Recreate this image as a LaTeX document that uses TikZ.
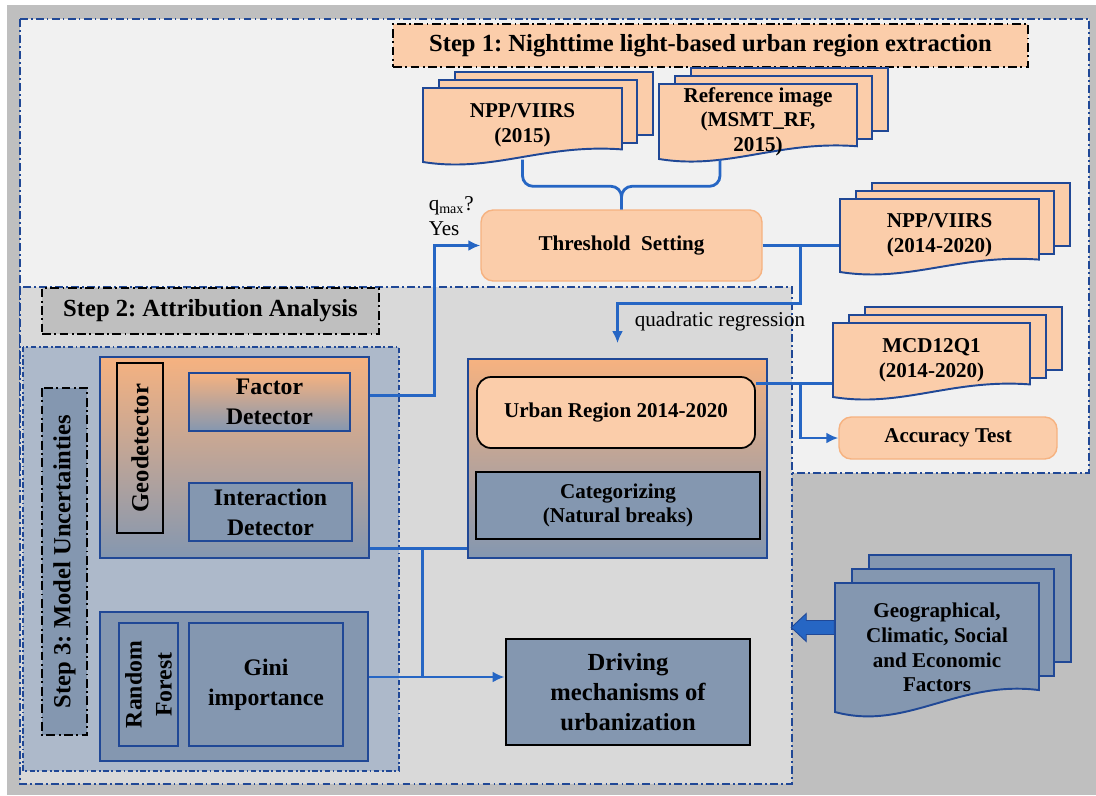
\documentclass[tikz,border=0pt]{standalone}
\usepackage{fontspec}
\setmainfont{Liberation Serif}
\usetikzlibrary{arrows.meta,calc}
\frenchspacing

\definecolor{outergray}{RGB}{191,191,191}
\definecolor{stepone}{RGB}{241,241,241}
\definecolor{steptwo}{RGB}{217,217,217}
\definecolor{stepthree}{RGB}{173,185,202}
\definecolor{panelblue}{RGB}{132,151,176}
\definecolor{peach}{RGB}{251,205,170}
\definecolor{orangetop}{RGB}{246,178,128}
\definecolor{linkblue}{RGB}{38,102,196}
\definecolor{edgeblue}{RGB}{32,72,150}

\begin{document}
\begin{tikzpicture}[x=0.2mm,y=-0.2mm,line width=0.85pt,>={Latex[length=2.4mm,width=2.2mm]},
  sz/.style 2 args={minimum width=#1*0.2mm,minimum height=#2*0.2mm,inner sep=1pt},
  txt/.style={font=\bfseries\fontsize{12}{14}\selectfont,align=center},
  big/.style={font=\bfseries\fontsize{13.5}{17}\selectfont,align=center},
  steptitle/.style={font=\bfseries\fontsize{14}{17}\selectfont,draw=black,
    dash pattern=on 5pt off 2pt on 1pt off 2pt,line width=0.9pt},
  region/.style={draw=edgeblue,line width=0.9pt,dash pattern=on 4.5pt off 1.8pt on 1pt off 1.8pt},
  docline/.style={draw=edgeblue,line width=1.1pt,fill=peach},
  roundbox/.style={fill=peach,draw=orangetop,line width=0.8pt,rounded corners=7pt},
  bluebox/.style={fill=panelblue,draw=edgeblue,line width=1pt},
  conn/.style={draw=linkblue,line width=1.6pt},
  lab/.style={font=\fontsize{12}{14}\selectfont,align=left},
  pics/docpage/.style 2 args={code={
    \path[pic actions] (-#1/2,-#2/2) -- (#1/2,-#2/2) -- (#1/2,#2/2-0.17*#2)
      .. controls (0.1*#1,#2/2-0.25*#2) and (-0.15*#1,#2/2+0.15*#2) .. (-#1/2,#2/2) -- cycle;}}]
  \useasboundingbox (0,0) rectangle (1096,795);
  % frame and step regions
  \fill[white] (0,0) rectangle (1096,795);
  \fill[outergray] (7,5) rectangle (1096,795);
  \path[region,fill=stepone] (20,19) rectangle (1089,473);
  \path[region,fill=steptwo] (20,287) rectangle (792,784);
  \path[region,fill=stepthree,dash pattern=on 3pt off 1.5pt on 1pt off 1.5pt] (23,347) rectangle (399,771);
  \node[steptitle,fill=peach,sz={635}{43}] (s1) at (710.5,45.5) {Step 1: Nighttime light-based urban region extraction};
  \node[steptitle,fill=outergray,sz={337}{46}] (s2) at (210.5,311) {Step 2: Attribution Analysis};
  \node[steptitle,fill=panelblue,rotate=90,sz={347}{45}] (s3) at (64.5,561.5) {Step 3: Model Uncertainties};

  % step 1: inputs and threshold
  \coordinate (ca) at (522.5,125);
  \foreach \k in {2,1} \draw[docline] ($(ca)+(-99.5+16*\k,-37-8*\k)$) rectangle ++(198,63);
  \pic[docline] at (ca) {docpage={199}{74}};
  \node[txt,sz={199}{74}] (npp15) at (ca) {NPP/VIIRS\\(2015)};
  \coordinate (cb) at (758,121.5);
  \foreach \k in {2,1} \draw[docline] ($(cb)+(-99+16*\k,-37.5-8*\k)$) rectangle ++(197,63);
  \pic[docline] at (cb) {docpage={198}{75}};
  \node[txt,sz={198}{75}] (ref15) at (cb) {Reference image\\(MSMT\_RF,\\2015)};
  \node[txt,roundbox,sz={281}{71}] (thr) at (621.5,245.5) {Threshold\ \ Setting};
  \coordinate (cc) at (939.5,235.5);
  \foreach \k in {2,1} \draw[docline] ($(cc)+(-99.5+16*\k,-36.5-8*\k)$) rectangle ++(198,63);
  \pic[docline] at (cc) {docpage={199}{73}};
  \node[txt,sz={199}{73}] (npp20) at (cc) {NPP/VIIRS\\(2014-2020)};
  \coordinate (cd) at (931.5,360);
  \foreach \k in {2,1} \draw[docline] ($(cd)+(-98.5+16*\k,-37-8*\k)$) rectangle ++(197,63);
  \pic[docline] at (cd) {docpage={197}{74}};
  \node[txt,sz={197}{74}] (mcd) at (cd) {MCD12Q1\\(2014-2020)};
  \node[txt,roundbox,sz={218}{42}] (acc) at (948,438) {Accuracy Test};

  % step 2/3: detectors
  \node[draw=edgeblue,line width=1pt,top color=orangetop,bottom color=panelblue,sz={269}{201}] (geo) at (234.5,457.5) {};
  \node[draw=black,line width=0.9pt,rotate=90,sz={170}{46},font=\bfseries\fontsize{14}{17}\selectfont] (gd) at (140,448) {Geodetector};
  \node[big,draw=edgeblue,line width=1pt,top color=orangetop,bottom color=panelblue,sz={161}{58}] (fd) at (269.5,402) {Factor\\Detector};
  \node[big,bluebox,sz={163}{58}] (id) at (270.5,512) {Interaction\\Detector};
  \node[bluebox,sz={268}{149}] (rfp) at (234,686.5) {};
  \node[big,bluebox,rotate=90,sz={123}{59}] (rf) at (148.5,684.5) {Random\\Forest};
  \node[big,bluebox,sz={154}{123}] (gini) at (266,684.5) {Gini\\importance};
  \node[draw=edgeblue,line width=1pt,top color=orangetop,bottom color=panelblue,sz={299}{199}] (up) at (617.5,458.5) {};
  \node[txt,fill=peach,draw=black,line width=1pt,rounded corners=8pt,sz={278}{71}] (ur) at (616,412.5) {Urban Region 2014-2020};
  \node[txt,fill=panelblue,draw=black,line width=1pt,sz={284}{67}] (cat) at (618,505.5) {Categorizing\\(Natural breaks)};
  \node[bluebox,draw=black,line width=1.6pt,sz={244}{106},font=\bfseries\fontsize{14}{17}\selectfont,align=center] (drv) at (628,692) {Driving\\mechanisms of\\urbanization};
  \coordinate (ce) at (937,647.5);
  \foreach \k in {2,1} \draw[docline,fill=panelblue] ($(ce)+(-102+17*\k,-64.5-14*\k)$) rectangle ++(202,107);
  \pic[docline,fill=panelblue] at (ce) {docpage={204}{129}};
  \node[txt,sz={204}{129}] (fac) at (ce) {Geographical,\\Climatic, Social\\and Economic\\Factors};

  % connectors
  \draw[conn,rounded corners=6pt] ($(npp15.south)+(0,-3)$) |- ($(thr.north)+(0,-23)$) -- (thr.north);
  \draw[conn,rounded corners=6pt] ($(ref15.south)+(-38,0)$) |- ($(thr.north)+(0,-23)$) -- (thr.north);
  \draw[conn,->] ($(geo.east)+(0,-62)$) -- ++(65,0) |- (thr.west);
  \node[lab,anchor=north west,inner sep=0pt] (qy) at (428,196) {q\textsubscript{max}?\\Yes};
  \draw[conn] (thr.east) -- (thr.east -| npp20.west);
  \coordinate (jq) at ($(thr.east)+(38,0)$);
  \draw[conn,->] (jq) -- ++(0,58) -| ($(up.north)+(0,-15)$);
  \node[lab,anchor=west,inner sep=0pt] (qr) at (634,321) {quadratic regression};
  \coordinate (um) at ($(ur.north east)+(0,7)$);
  \draw[conn] (um) -- (um -| mcd.west);
  \draw[conn,->] ($(um)+(45,0)$) |- (acc.west);
  \coordinate (ga) at ($(geo.south east)+(0,-10)$);
  \draw[conn] (ga) -- (ga -| up.west);
  \coordinate (gb) at ($(rfp.east)+(0,-9.5)$);
  \draw[conn,->] (gb) -- (gb -| drv.west);
  \coordinate (gv) at ($(ga)+(53,0)$);
  \draw[conn] (gv) -- (gv |- gb);
  \coordinate (fa) at ($(fac.west)+(0,-20)$);
  \draw[fill=linkblue,draw=edgeblue,line width=0.5pt] (fa) ++(0,-7) -- ++(-28,0) -- ++(0,-7) -- ++(-15,14) -- ++(15,14) -- ++(0,-7) -- ++(28,0) -- cycle;
\end{tikzpicture}
\end{document}
